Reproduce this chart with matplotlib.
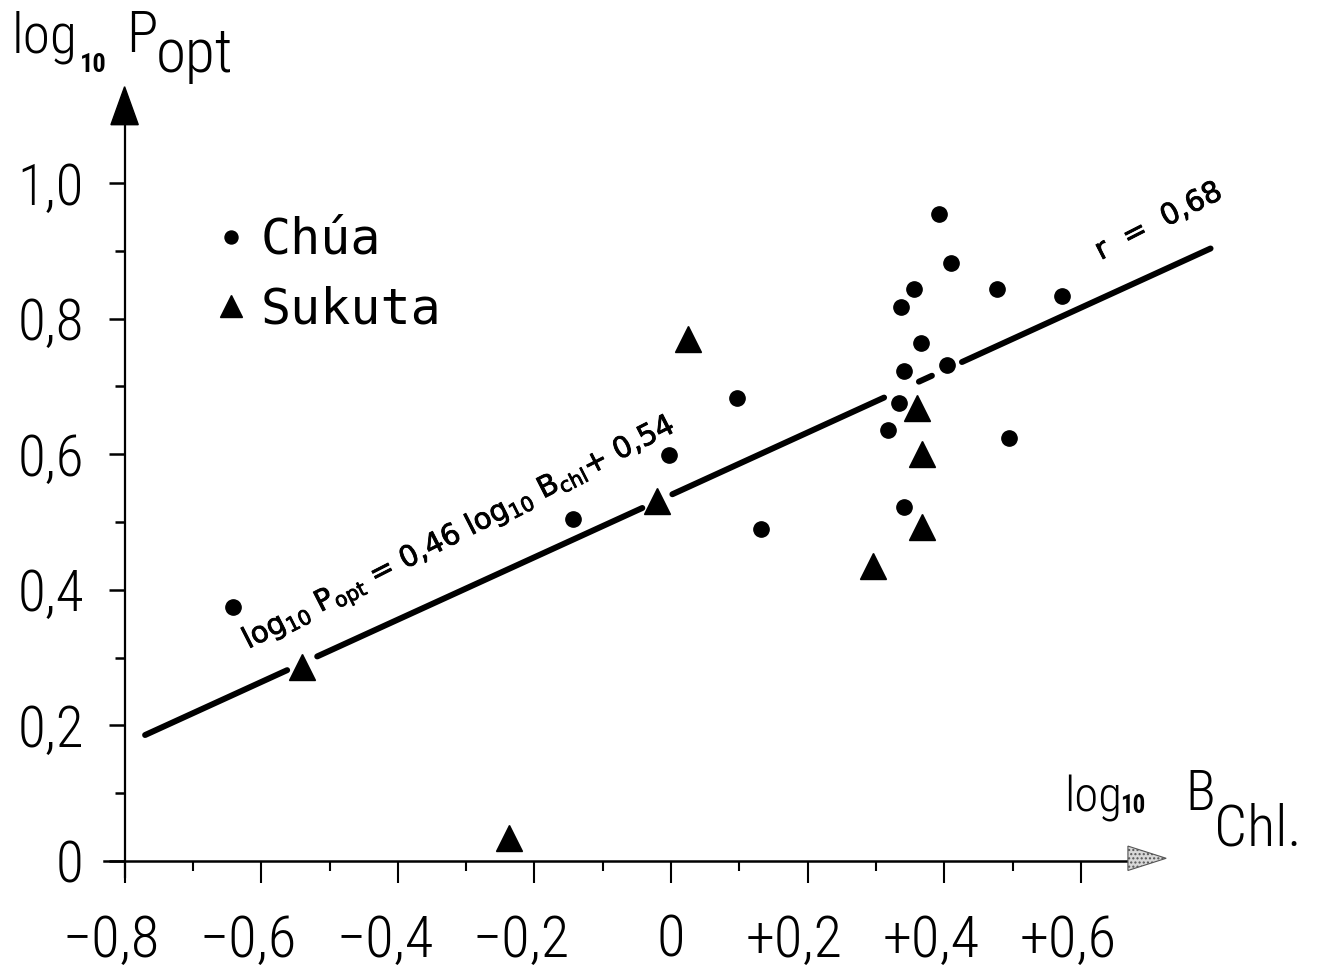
import numpy as np
import matplotlib
matplotlib.use("Agg")
import matplotlib.pyplot as plt
from matplotlib import font_manager as fm
from matplotlib.patches import Polygon
from matplotlib.transforms import ScaledTranslation
from matplotlib.font_manager import FontProperties
import matplotlib.patheffects as pe

# ---------------- data ----------------
chua_x = [-0.641, -0.143, -0.003, 0.097, 0.132, 0.392, 0.410, 0.356, 0.337,
          0.477, 0.572, 0.366, 0.341, 0.404, 0.334, 0.318, 0.495, 0.341]
chua_y = [0.375, 0.504, 0.599, 0.683, 0.490, 0.954, 0.882, 0.844, 0.817,
          0.844, 0.833, 0.764, 0.723, 0.732, 0.676, 0.636, 0.624, 0.522]

sukuta_x = [0.025, -0.020, 0.360, 0.367, 0.367, 0.296, -0.540, -0.237]
sukuta_y = [0.770, 0.531, 0.668, 0.600, 0.493, 0.435, 0.286, 0.034]

fit_slope = 0.46
fit_intercept = 0.54
fit_x_start, fit_x_end = -0.77, 0.79
r_text = "r  =  0,68"
fit_text = (r"log$_{\mathregular{10}}$ P$_{\mathregular{opt}}$ = 0,46 "
            r"log$_{\mathregular{10}}$ B$_{\mathregular{chl}}$+ 0,54")

x_ticks = [-0.8, -0.6, -0.4, -0.2, 0.0, 0.2, 0.4, 0.6]
x_tick_labels = ["\u22120,8", "\u22120,6", "\u22120,4", "\u22120,2", "0", "+0,2", "+0,4", "+0,6"]
x_minor = [-0.7, -0.5, -0.3, -0.1, 0.1, 0.3, 0.5]
y_ticks = [0.0, 0.2, 0.4, 0.6, 0.8, 1.0]
y_tick_labels = ["0", "0,2", "0,4", "0,6", "0,8", "1,0"]
y_minor = [0.1, 0.3, 0.5, 0.7, 0.9]

# ---------------- fonts ----------------
def narrow_font():
    names = {f.name for f in fm.fontManager.ttflist}
    for cand in ["Liberation Sans Narrow", "DejaVu Sans Condensed", "Roboto Condensed"]:
        if cand in names:
            return FontProperties(family=cand)
    for f in fm.fontManager.ttflist:
        if f.name == "DejaVu Sans" and "condensed" in str(f.stretch):
            return FontProperties(family="DejaVu Sans", stretch="condensed")
    return FontProperties(family="DejaVu Sans")

NARROW = narrow_font()

def nf(size, weight="light"):
    p = NARROW.copy()
    p.set_size(size)
    p.set_weight(weight)
    return p

W, H, DPI = 1319, 967, 100
fig = plt.figure(figsize=(W / DPI, H / DPI), dpi=DPI)
fig.patch.set_facecolor("white")
ax = fig.add_axes([0, 0, 1, 1])

# data range spanned by the whole canvas
ax.set_xlim(-671 / 683, (W - 671) / 683)
ax.set_ylim(-(H - 861) / 678, 861 / 678)
ax.set_facecolor("white")

# ---------------- axes ----------------
for side in ("top", "right"):
    ax.spines[side].set_visible(False)
ax.spines["left"].set_position(("data", -0.8))
ax.spines["bottom"].set_position(("data", 0.0))
ax.spines["left"].set_bounds(-0.024, 1.09)
ax.spines["bottom"].set_bounds(-0.83, 0.68)
ax.spines["left"].set_linewidth(1.6)
ax.spines["bottom"].set_linewidth(1.8)

ax.set_xticks(x_ticks)
ax.set_xticklabels(x_tick_labels, fontproperties=nf(42))
ax.set_xticks(x_minor, minor=True)
ax.set_yticks(y_ticks)
ax.set_yticklabels(y_tick_labels, fontproperties=nf(41))
ax.set_yticks(y_minor, minor=True)
ax.tick_params(axis="x", which="major", direction="out", length=16, width=1.5, pad=22)
ax.tick_params(axis="x", which="minor", direction="out", length=7, width=1.5)
ax.tick_params(axis="y", which="major", direction="out", length=11.5, width=1.8, pad=18)
ax.tick_params(axis="y", which="minor", direction="out", length=7, width=1.8)

# signed x labels: centre the numeral, not the sign
for lab, txt in zip(ax.get_xticklabels(), x_tick_labels):
    if txt[0] in "\u2212+":
        lab.set_transform(lab.get_transform() + ScaledTranslation(-13 / DPI, 0, fig.dpi_scale_trans))

# arrowheads
ytip, yhead, yhw = 1.142, 0.056, 0.020
ax.add_patch(Polygon([(-0.8, ytip), (-0.8 - yhw, ytip - yhead), (-0.8 + yhw, ytip - yhead)],
                     closed=True, facecolor="black", edgecolor="black", lw=1, zorder=5))
xtip, xhead, xhw = 0.725, 0.056, 0.018
ax.add_patch(Polygon([(xtip, 0.004), (xtip - xhead, 0.004 + xhw), (xtip - xhead, 0.004 - xhw)],
                     closed=True, facecolor="#d8d8d8", edgecolor="#555555", hatch="....",
                     lw=0.8, zorder=5))

# ---------------- regression line, broken where it runs through a marker ----------------
px_all = np.array(chua_x + sukuta_x)
py_all = np.array(chua_y + sukuta_y)
resid = np.abs(py_all - (fit_slope * px_all + fit_intercept))
gaps = sorted((x - 0.022, x + 0.022) for x in px_all[resid < 0.027])
segments, start = [], fit_x_start
for g0, g1 in gaps:
    if g0 > start:
        segments.append((start, g0))
    start = max(start, g1)
if start < fit_x_end:
    segments.append((start, fit_x_end))
for s0, s1 in segments:
    xs = np.array([s0, s1])
    ax.plot(xs, fit_slope * xs + fit_intercept, color="black", lw=4.3,
            solid_capstyle="round", zorder=3)

# ---------------- points ----------------
h_chua, = ax.plot(chua_x, chua_y, ls="none", marker="o", ms=11, color="black",
                  zorder=4, label="Chúa")
h_suk, = ax.plot(sukuta_x, sukuta_y, ls="none", marker="^", ms=19, color="black",
                 zorder=4, label="Sukuta")

# ---------------- annotations ----------------
hand = [pe.withStroke(linewidth=0.6, foreground="black")]
ax.text(-0.310, 0.482, fit_text, fontsize=21, family="DejaVu Sans", rotation=27,
        rotation_mode="anchor", ha="center", va="center", path_effects=hand)
ax.text(0.714, 0.943, r_text, fontsize=21, family="DejaVu Sans", rotation=27,
        rotation_mode="anchor", ha="center", va="center", path_effects=hand)

# axis titles placed in canvas pixels (baseline positions)
def ptext(x, y, s, prop):
    fig.text(x / W, 1 - y / H, s, fontproperties=prop, ha="left", va="baseline")

ptext(12, 53, "log", nf(40))
ptext(80, 72, "10", nf(19, "bold"))
ptext(126, 52, "P", nf(42))
ptext(156, 72, "opt", nf(44))

ptext(1064, 812, "log", nf(35))
ptext(1120, 813, "10", nf(18, "bold"))
ptext(1185, 810, "B", nf(40))
ptext(1214, 845, "Chl.", nf(42))

# ---------------- legend ----------------
ax.legend(handles=[h_chua, h_suk], loc="upper left",
          bbox_to_anchor=(216 / W, 1 - 216 / H), bbox_transform=fig.transFigure,
          frameon=False, prop=FontProperties(family="DejaVu Sans Mono", size=36),
          handlelength=0.6, handletextpad=0.3, labelspacing=0.42,
          borderpad=0, borderaxespad=0, markerscale=0.85)

fig.savefig("out.png", dpi=DPI, facecolor="white")
